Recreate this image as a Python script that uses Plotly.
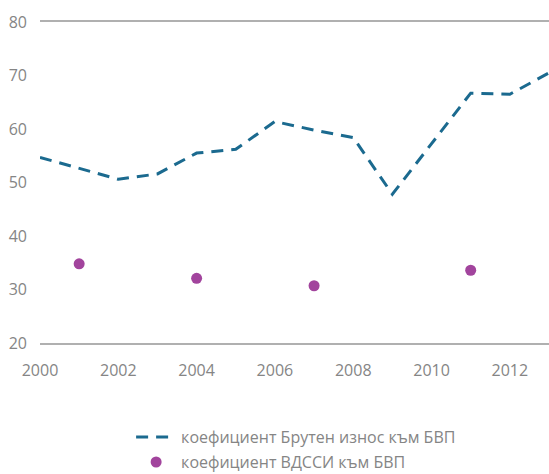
import plotly.graph_objects as go

years_line = [2000, 2001, 2002, 2003, 2004, 2005, 2006, 2007, 2008, 2009, 2010, 2011, 2012, 2013]
export_ratio = [54.7, 52.6, 50.6, 51.6, 55.5, 56.2, 61.4, 59.8, 58.4, 47.8, 57.2, 66.7, 66.5, 70.5]

years_dots = [2001, 2004, 2007, 2011]
gva_ratio = [34.8, 32.1, 30.7, 33.6]

x_ticks = [2000, 2002, 2004, 2006, 2008, 2010, 2012]
y_ticks = [20, 30, 40, 50, 60, 70, 80]

name_line = "коефициент Брутен износ към БВП"
name_dots = "коефициент ВДССИ към БВП"

fig = go.Figure()
fig.add_trace(go.Scatter(
    x=years_line, y=export_ratio, mode="lines", name=name_line,
    line=dict(color="#1b6a8f", width=3, dash="12px,8px"), legend="legend",
))
fig.add_trace(go.Scatter(
    x=years_dots, y=gva_ratio, mode="markers", name=name_dots,
    marker=dict(color="#a2449d", size=11), legend="legend2",
))

leg_common = dict(xanchor="left", yanchor="middle", font=dict(size=16, color="#858585"),
                  itemwidth=40, bgcolor="rgba(0,0,0,0)")

fig.update_layout(
    width=549, height=474,
    margin=dict(l=40, r=0, t=22, b=131, autoexpand=False),
    paper_bgcolor="white", plot_bgcolor="white",
    font=dict(family="Open Sans", color="#858585", size=16),
    showlegend=True,
    legend=dict(x=0.179, y=-0.293, **leg_common),
    legend2=dict(x=0.179, y=-0.371, **leg_common),
    xaxis=dict(
        range=[2000, 2013], tickvals=x_ticks, ticktext=[str(v) for v in x_ticks],
        showgrid=False, zeroline=False, showline=True, mirror=True,
        linecolor="#b0b0b0", linewidth=1.5, ticks="", ticklabelstandoff=12,
        automargin=False,
    ),
    yaxis=dict(
        range=[20, 80], tickvals=y_ticks, showgrid=False, zeroline=False,
        showline=False, ticks="", ticklabelstandoff=12, automargin=False,
    ),
)

fig.write_html(
    "out.html",
    config={"displayModeBar": False},
    post_script="document.body.style.margin='0';document.body.style.overflow='hidden';",
)
